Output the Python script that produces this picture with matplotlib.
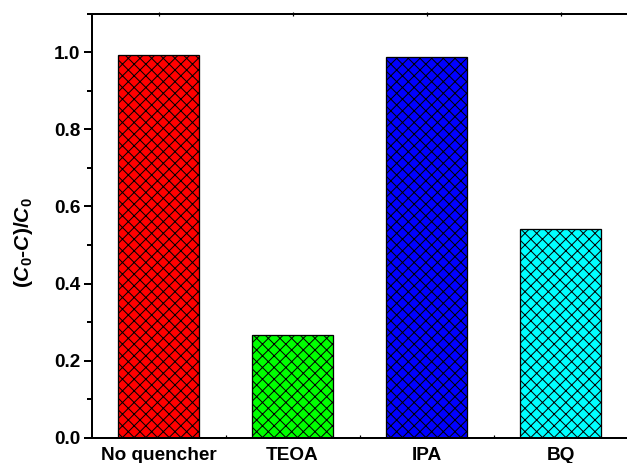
import matplotlib
matplotlib.use("Agg")
import matplotlib.pyplot as plt
from matplotlib.ticker import MultipleLocator, FixedLocator

categories = ["No quencher", "TEOA", "IPA", "BQ"]
removal = [0.992, 0.266, 0.988, 0.541]
bar_colors = ["#FF0000", "#00FF00", "#0000FF", "#00FFFF"]
y_ticks = [0.0, 0.2, 0.4, 0.6, 0.8, 1.0]

# the crosshatch spacing follows the dpi: "xx" gives a dpi/6 pixel period
DPI = 70
W, H = 627, 463


def px(v):
    """Convert a size in pixels to points at the figure dpi."""
    return v * 72 / DPI


plt.rcParams["font.family"] = ["Liberation Sans", "DejaVu Sans"]
plt.rcParams["font.weight"] = "bold"
plt.rcParams["mathtext.fontset"] = "custom"
plt.rcParams["mathtext.rm"] = "Liberation Sans:bold"
plt.rcParams["mathtext.it"] = "Liberation Sans:italic:bold"
plt.rcParams["mathtext.bf"] = "Liberation Sans:bold"
plt.rcParams["hatch.linewidth"] = px(1.0)
plt.rcParams["hatch.color"] = "black"

fig = plt.figure(figsize=(W / DPI, H / DPI), dpi=DPI)
left, right, bottom, top = 91.5, 627.5, 438.0, 13.5
ax = fig.add_axes([left / W, 1 - bottom / H, (right - left) / W, (bottom - top) / H])

x = range(len(categories))
ax.bar(x, removal, width=0.6, color=bar_colors, edgecolor="black",
       linewidth=px(1.3), hatch="xx", zorder=2)

ax.set_xlim(-0.5, len(categories) - 0.5)
ax.set_ylim(0, 1.1)

fs = px(19)
ax.set_xticks(list(x))
ax.set_xticklabels(categories, fontsize=fs, fontweight="bold")
ax.xaxis.set_minor_locator(FixedLocator([0.5, 1.5, 2.5]))
ax.set_yticks(y_ticks)
ax.set_yticklabels([f"{v:.1f}" for v in y_ticks], fontsize=fs, fontweight="bold")
ax.yaxis.set_minor_locator(MultipleLocator(0.1))

lw = px(2.0)
for s in ax.spines.values():
    s.set_linewidth(lw)

ax.tick_params(axis="x", which="major", bottom=False, top=True, labelbottom=True,
               direction="inout", length=px(4), width=px(1.2), pad=px(7))
ax.tick_params(axis="x", which="minor", bottom=True, top=False,
               direction="in", length=px(3), width=px(1.2))
ax.tick_params(axis="y", which="major", left=True, right=False, direction="out",
               length=px(8), width=lw, pad=px(3))
ax.tick_params(axis="y", which="minor", left=True, right=False, direction="out",
               length=px(5), width=lw)

ax.set_ylabel(r"($C_{0}$-$C$)/$C_{0}$", fontsize=px(21), fontweight="bold")
ax.yaxis.set_label_coords(-0.105, 0.46)

fig.savefig("out.png", dpi=DPI)
